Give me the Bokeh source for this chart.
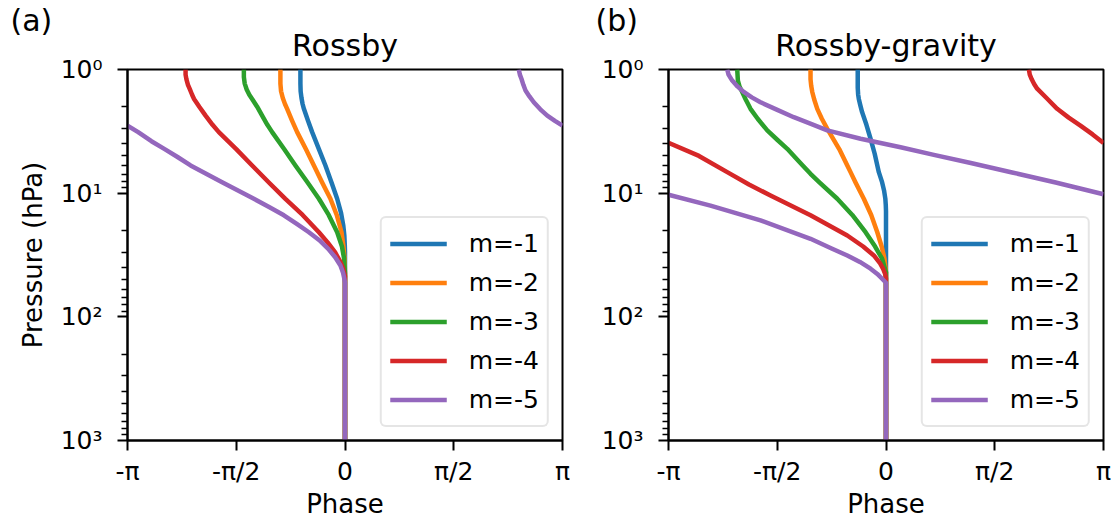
import numpy as np
from bokeh.plotting import figure
from bokeh.layouts import row
from bokeh.models import (Range1d, FixedTicker, CustomJSTickFormatter, Legend,
                          LegendItem, Title)
from bokeh.embed import file_html
from bokeh.resources import INLINE

# ---------------- data (phase in units of pi, pressure in hPa) ----------------
labels = ["m=-1", "m=-2", "m=-3", "m=-4", "m=-5"]
colors = ["#1f77b4", "#ff7f0e", "#2ca02c", "#d62728", "#9467bd"]

# Panel (a) Rossby
a1_p  = [1.0, 1.3, 1.5, 1.7, 1.9, 2.08, 2.6, 3.21, 4.4, 5.97, 8.2, 11.1, 14.5, 18.2, 22, 26, 30, 1000]
a1_ph = [-0.205, -0.205, -0.204, -0.200, -0.195, -0.189, -0.170, -0.151, -0.120, -0.090, -0.062, -0.036, -0.018, -0.008, -0.003, -0.001, 0.0, 0.0]
a2_p  = [1.0, 1.3, 1.5, 1.7, 1.9, 2.08, 2.6, 3.21, 4.4, 5.97, 8.2, 11.1, 15, 20.7, 27, 34, 44, 1000]
a2_ph = [-0.297, -0.297, -0.294, -0.286, -0.276, -0.266, -0.243, -0.220, -0.180, -0.143, -0.105, -0.067, -0.038, -0.016, -0.007, -0.002, 0.0, 0.0]
a3_p  = [1.0, 1.15, 1.3, 1.45, 1.6, 1.73, 2.0, 2.36, 2.8, 3.21, 4.4, 5.97, 8.2, 11.1, 15, 20.7, 27, 34, 45, 1000]
a3_ph = [-0.465, -0.465, -0.461, -0.452, -0.440, -0.427, -0.404, -0.381, -0.357, -0.335, -0.280, -0.228, -0.172, -0.120, -0.075, -0.036, -0.014, -0.004, 0.0, 0.0]
a4_p  = [1.0, 1.1, 1.2, 1.33, 1.45, 1.6, 1.73, 2.0, 2.36, 2.8, 3.21, 4.4, 5.97, 8.2, 11.1, 15, 20.7, 25, 30, 36, 41, 47, 1000]
a4_ph = [-0.733, -0.733, -0.729, -0.722, -0.713, -0.703, -0.694, -0.670, -0.641, -0.609, -0.580, -0.500, -0.427, -0.350, -0.274, -0.195, -0.120, -0.080, -0.046, -0.021, -0.008, 0.0, 0.0]
a5_p  = [2.84, 3.21, 3.8, 4.38, 5.1, 5.97, 8.15, 11.1, 13, 15.1, 17.8, 20.7, 24, 28.2, 33, 38.5, 44, 49.2, 53, 1000]
a5_ph = [-1.0, -0.951, -0.890, -0.831, -0.770, -0.710, -0.565, -0.419, -0.347, -0.281, -0.220, -0.166, -0.118, -0.077, -0.045, -0.021, -0.009, -0.003, 0.0, 0.0]
a5w_p  = [1.0, 1.1, 1.2, 1.33, 1.48, 1.65, 1.84, 2.1, 2.36, 2.6, 2.84]
a5w_ph = [0.799, 0.804, 0.812, 0.820, 0.830, 0.848, 0.868, 0.898, 0.930, 0.965, 1.0]

# Panel (b) Rossby-gravity
b1_p  = [1.0, 1.4, 1.6, 1.73, 1.95, 2.21, 2.8, 3.63, 4.8, 6.76, 8.15, 9.5, 11.1, 12.5, 14, 1000]
b1_ph = [-0.130, -0.130, -0.128, -0.125, -0.118, -0.110, -0.090, -0.071, -0.052, -0.033, -0.018, -0.009, -0.003, -0.001, 0.0, 0.0]
b2_p  = [1.0, 1.2, 1.35, 1.52, 1.75, 2.08, 2.5, 3.02, 4.4, 5.97, 6.76, 8.2, 11.1, 15, 20.7, 27, 33.9, 43.7, 1000]
b2_ph = [-0.347, -0.347, -0.344, -0.339, -0.330, -0.316, -0.295, -0.270, -0.215, -0.178, -0.163, -0.140, -0.102, -0.068, -0.040, -0.020, -0.007, 0.0, 0.0]
b3_p  = [1.0, 1.23, 1.38, 1.52, 1.75, 2.08, 2.5, 3.11, 3.7, 4.38, 5.2, 5.97, 6.97, 8.2, 11.1, 15, 20.7, 27, 33.9, 43.7, 1000]
b3_ph = [-0.684, -0.681, -0.673, -0.661, -0.645, -0.623, -0.590, -0.546, -0.500, -0.454, -0.415, -0.383, -0.347, -0.305, -0.224, -0.155, -0.094, -0.050, -0.018, 0.0, 0.0]
b4_p  = [3.92, 5.0, 6.76, 8.5, 10.45, 15.1, 22.0, 27, 31.9, 37, 41, 45, 49, 1000]
b4_ph = [-1.0, -0.860, -0.730, -0.630, -0.531, -0.347, -0.178, -0.105, -0.056, -0.027, -0.013, -0.004, 0.0, 0.0]
b4w_p  = [1.0, 1.1, 1.2, 1.31, 1.43, 1.7, 2.08, 2.45, 2.84, 3.35, 3.92]
b4w_ph = [0.657, 0.661, 0.670, 0.681, 0.695, 0.738, 0.787, 0.840, 0.894, 0.950, 1.0]
b5_p  = [10.3, 12.6, 16.6, 23.4, 28, 31.9, 36, 40.8, 45, 49.2, 53, 1000]
b5_ph = [-1.0, -0.807, -0.577, -0.347, -0.250, -0.178, -0.120, -0.071, -0.040, -0.018, 0.0, 0.0]
b5w_p  = [1.0, 1.1, 1.23, 1.37, 1.52, 1.68, 1.84, 2.1, 2.43, 2.75, 3.11, 3.63, 4.25, 4.9, 5.7, 6.8, 8.2, 10.2]
b5w_ph = [-0.730, -0.724, -0.707, -0.683, -0.654, -0.617, -0.577, -0.505, -0.424, -0.345, -0.270, -0.117, 0.067, 0.22, 0.39, 0.58, 0.78, 1.0]

x_ticks = [-1, -0.5, 0, 0.5, 1]
x_tick_labels = ["-π", "-π/2", "0", "π/2", "π"]
y_ticks = [1, 10, 100, 1000]
y_tick_labels = ["10⁰", "10¹", "10²", "10³"]

FONT = "DejaVu Sans"


def make_panel(title, tag, curves, wraps, width, left, right, ylabel, tag_offset):
    p = figure(width=width, height=523, x_range=Range1d(-1, 1), y_range=Range1d(1000, 1),
               y_axis_type="log", output_backend="svg", toolbar_location=None,
               min_border_left=left, min_border_right=right,
               min_border_top=69, min_border_bottom=83)
    p.grid.visible = False
    p.outline_line_color = "black"
    p.outline_line_width = 2
    p.outline_line_alpha = 1
    p.background_fill_color = "white"
    p.border_fill_color = "white"

    renderers = {}
    for i, (ph, pr) in enumerate(curves):
        r = p.line(ph, pr, line_color=colors[i], line_width=4.5, line_join="round")
        renderers[i] = r
        for (j, wph, wpr) in wraps:
            if j == i:
                p.line(wph, wpr, line_color=colors[i], line_width=4.5, line_join="round")

    legend = Legend(items=[LegendItem(label=labels[i], renderers=[renderers[i]]) for i in range(5)],
                    location="bottom_right", label_text_font=FONT, label_text_font_size="25px",
                    label_text_color="black",
                    glyph_width=57, glyph_height=35, label_height=35, spacing=4, padding=8,
                    label_standoff=22, border_line_color="#cccccc", border_line_width=2,
                    margin=13, background_fill_alpha=0.85)
    if "border_radius" in Legend.properties():
        legend.border_radius = 6
    p.add_layout(legend)

    p.xaxis.ticker = FixedTicker(ticks=x_ticks, minor_ticks=[])
    xmap = ",".join('"%s":"%s"' % (str(t), l) for t, l in zip(x_ticks, x_tick_labels))
    p.xaxis.formatter = CustomJSTickFormatter(code="const m={%s}; const v=m[String(tick)]; return v===undefined?'':v;" % xmap)
    minor = [m * d for d in (1, 10, 100) for m in range(2, 10)]
    p.yaxis.ticker = FixedTicker(ticks=y_ticks, minor_ticks=minor)
    ymap = ",".join('"%s":"%s"' % (t, l) for t, l in zip(y_ticks, y_tick_labels))
    p.yaxis.formatter = CustomJSTickFormatter(code="const m={%s}; const v=m[String(Math.round(tick))]; return v===undefined?'':v;" % ymap)

    for ax in (p.xaxis[0], p.yaxis[0]):
        ax.axis_line_width = 2
        ax.axis_line_color = "black"
        ax.major_tick_line_width = 2
        ax.minor_tick_line_width = 1.5
        ax.major_tick_out = 10
        ax.major_tick_in = 0
        ax.minor_tick_out = 6
        ax.minor_tick_in = 0
        ax.major_label_text_font = FONT
        ax.major_label_text_font_size = "25px"
        ax.major_label_text_color = "black"
        ax.axis_label_text_font = FONT
        ax.axis_label_text_font_size = "26px"
        ax.axis_label_text_font_style = "normal"
        ax.axis_label_text_color = "black"
    p.xaxis.major_label_standoff = 6
    p.yaxis.major_label_standoff = 15
    p.xaxis.axis_label = "Phase"
    p.xaxis.axis_label_standoff = 0
    if ylabel:
        p.yaxis.axis_label = ylabel
        p.yaxis.axis_label_standoff = 10

    # outer row: the panel tag "(a)"/"(b)" (figure's own title slot, furthest from frame)
    p.title.text = tag
    p.title.align = "left"
    p.title.offset = tag_offset
    p.title.standoff = -38
    p.title.text_font = FONT
    p.title.text_font_size = "30px"
    p.title.text_font_style = "normal"
    p.title.text_color = "black"

    # inner row: the centred panel title, next to the frame
    main_title = Title(text=title, align="center", standoff=14,
                       text_font=FONT, text_font_size="30px", text_font_style="normal",
                       text_color="black")
    p.add_layout(main_title, "above")
    return p


pa = make_panel("Rossby", "(a)",
                [(a1_ph, a1_p), (a2_ph, a2_p), (a3_ph, a3_p), (a4_ph, a4_p), (a5_ph, a5_p)],
                [(4, a5w_ph, a5w_p)],
                width=590, left=127, right=28, ylabel="Pressure (hPa)", tag_offset=-117)
pb = make_panel("Rossby-gravity", "(b)",
                [(b1_ph, b1_p), (b2_ph, b2_p), (b3_ph, b3_p), (b4_ph, b4_p), (b5_ph, b5_p)],
                [(3, b4w_ph, b4w_p), (4, b5w_ph, b5w_p)],
                width=526, left=78, right=13, ylabel=None, tag_offset=-73)

layout = row(pa, pb)
open("out.html", "w").write(file_html(layout, INLINE))
